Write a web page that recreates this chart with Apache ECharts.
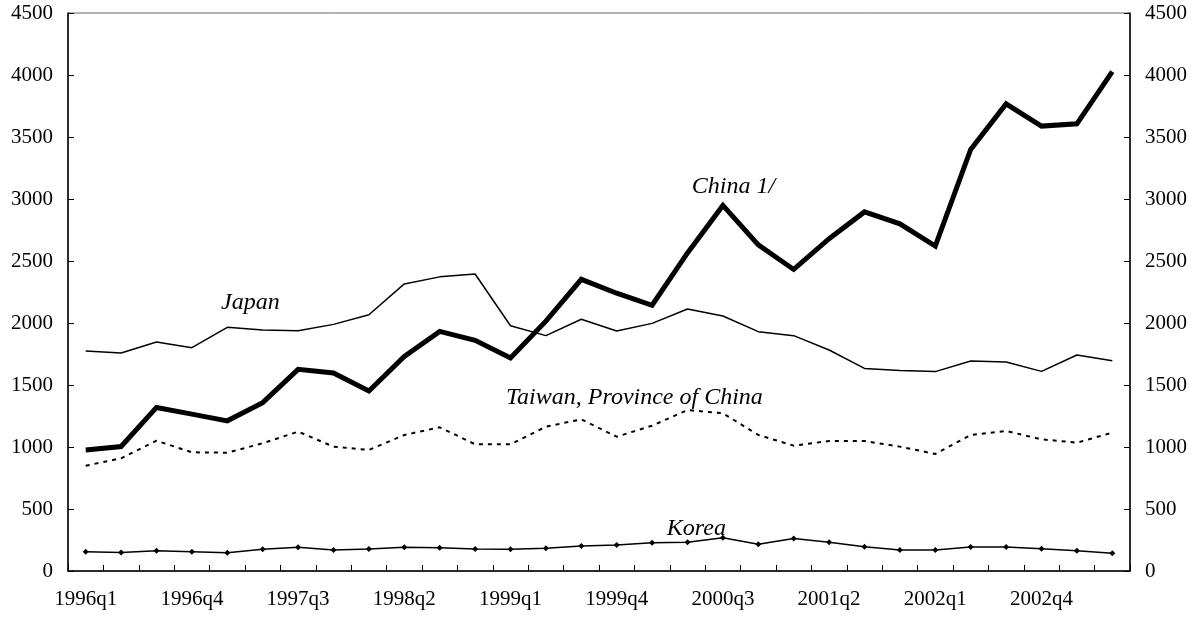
<!DOCTYPE html>
<html>
<head>
<meta charset="utf-8">
<script src="https://cdn.jsdelivr.net/npm/echarts@6/dist/echarts.min.js"></script>
<style>
html,body{margin:0;padding:0;background:#fff;}
#chart{width:1202px;height:619px;}
</style>
</head>
<body>
<div id="chart"></div>
<script>
var quarters = [];
(function(){ for (var y = 1996; y <= 2003; y++) for (var q = 1; q <= 4; q++) quarters.push(y + 'q' + q); })();
var categories = quarters.slice(0, 30);

var china = [976, 1004, 1319, 1265, 1211, 1358, 1626, 1597, 1452, 1730, 1932, 1860, 1718, 2015, 2352, 2240, 2143, 2565, 2948, 2630, 2432, 2680, 2896, 2800, 2621, 3400, 3767, 3588, 3606, 4028];
var japan = [1774, 1758, 1847, 1801, 1965, 1944, 1938, 1989, 2067, 2315, 2372, 2395, 1978, 1898, 2030, 1935, 1997, 2113, 2056, 1930, 1898, 1782, 1634, 1616, 1608, 1694, 1685, 1610, 1742, 1696];
var taiwan = [849, 909, 1051, 957, 954, 1030, 1124, 1003, 976, 1097, 1159, 1022, 1022, 1164, 1223, 1083, 1172, 1298, 1272, 1097, 1011, 1048, 1048, 1003, 944, 1097, 1129, 1062, 1035, 1115];
var korea = [156, 150, 164, 156, 148, 175, 191, 169, 177, 191, 188, 177, 175, 183, 202, 210, 228, 231, 269, 215, 263, 231, 196, 169, 169, 194, 194, 180, 164, 143];

var yTicks = [0, 500, 1000, 1500, 2000, 2500, 3000, 3500, 4000, 4500];
var annotations = [
  {text: 'Japan', cat: 4.65, val: 2165},
  {text: 'China 1/', cat: 18.3, val: 3100},
  {text: 'Taiwan, Province of China', cat: 15.5, val: 1395},
  {text: 'Korea', cat: 17.25, val: 340}
];

var FONT = '"Liberation Serif", "Times New Roman", serif';
var chart = echarts.init(document.getElementById('chart'));

function yAxisDef(pos) {
  return {
    type: 'value', position: pos, min: yTicks[0], max: yTicks[yTicks.length - 1], interval: 500,
    axisLine: {show: true, lineStyle: {color: '#000', width: 1.5}},
    axisTick: {show: true, inside: true, length: 6, lineStyle: {color: '#000'}},
    axisLabel: {color: '#000', fontFamily: FONT, fontSize: 21, margin: 15, formatter: function (v) { return String(v); }},
    splitLine: {show: false}
  };
}

chart.setOption({
  animation: false,
  grid: {left: 68, right: 72, top: 13, bottom: 48, show: true, borderColor: '#666', borderWidth: 1},
  xAxis: {
    type: 'category', data: categories, boundaryGap: true,
    axisLine: {lineStyle: {color: '#000', width: 1.5}},
    axisTick: {show: true, inside: true, length: 6, interval: 0, lineStyle: {color: '#000'}},
    axisLabel: {color: '#000', fontFamily: FONT, fontSize: 21, margin: 18, interval: 2},
    splitLine: {show: false}
  },
  yAxis: [yAxisDef('left'), yAxisDef('right')],
  series: [
    {name: 'Japan', type: 'line', data: japan, symbol: 'none', lineStyle: {color: '#000', width: 1.5}, z: 3},
    {name: 'Taiwan, Province of China', type: 'line', data: taiwan, symbol: 'none', lineStyle: {color: '#000', width: 2, type: [4, 5]}, z: 3},
    {name: 'Korea', type: 'line', data: korea, symbol: 'diamond', symbolSize: 6, itemStyle: {color: '#000'}, lineStyle: {color: '#000', width: 1.5}, z: 3},
    {name: 'China 1/', type: 'line', data: china, symbol: 'none', lineStyle: {color: '#000', width: 5, join: 'miter'}, z: 4}
  ]
});

function placeAnnotations() {
  var els = annotations.map(function (a) {
    var x0 = chart.convertToPixel({xAxisIndex: 0}, Math.floor(a.cat));
    var x1 = chart.convertToPixel({xAxisIndex: 0}, Math.floor(a.cat) + 1);
    var px = x0 + (x1 - x0) * (a.cat - Math.floor(a.cat));
    var py = chart.convertToPixel({yAxisIndex: 0}, a.val);
    return {
      type: 'text', x: px, y: py, z: 10,
      style: {text: a.text, fill: '#000', font: 'italic 24px ' + FONT, textAlign: 'center', textVerticalAlign: 'middle'}
    };
  });
  chart.setOption({graphic: els});
}
placeAnnotations();
</script>
</body>
</html>
